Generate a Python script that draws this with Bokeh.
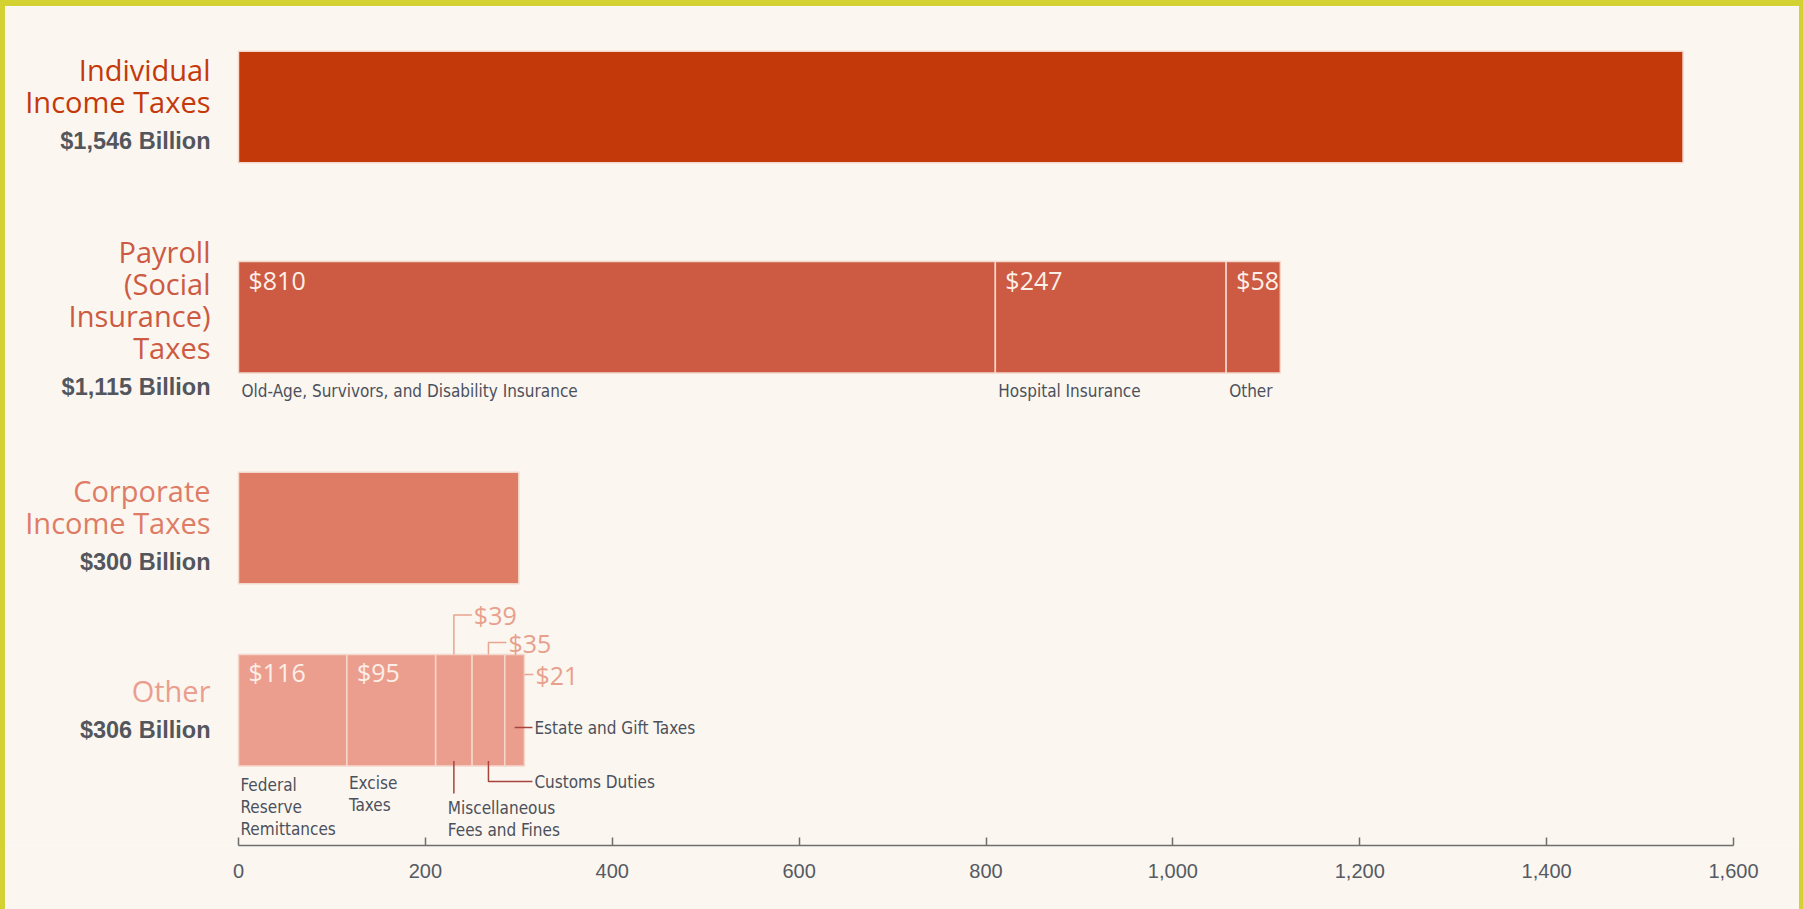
from bokeh.plotting import figure
from bokeh.models import Range1d, FixedTicker, NumeralTickFormatter, ColumnDataSource
from bokeh.core.properties import value
from bokeh.embed import file_html
from bokeh.resources import INLINE

# ---------------- data ----------------
categories = ["Individual Income Taxes", "Payroll (Social Insurance) Taxes",
              "Corporate Income Taxes", "Other"]
title_lines = [["Individual", "Income Taxes"],
               ["Payroll", "(Social", "Insurance)", "Taxes"],
               ["Corporate", "Income Taxes"],
               ["Other"]]
totals = [1546, 1115, 300, 306]
individual_values = [1546]
corporate_values = [300]
payroll_names = ["Old-Age, Survivors, and Disability Insurance", "Hospital Insurance", "Other"]
payroll_values = [810, 247, 58]
other_names = ["Federal\nReserve\nRemittances", "Excise\nTaxes", "Miscellaneous\nFees and Fines",
               "Customs Duties", "Estate and Gift Taxes"]
other_values = [116, 95, 39, 35, 21]
x_ticks = [0, 200, 400, 600, 800, 1000, 1200, 1400, 1600]

# ---------------- layout / style ----------------
BL, BT, BR = 5, 6, 4               # yellow frame widths (left/top/right)
W, H = 1803 - BL - BR, 909 - BT     # element content box
CANVAS_W, CANVAS_H = W + BL + BR, H + BT   # canvas size Bokeh ends up using (clipped)
X0_PX, XMAX_PX = 238, 1733
PX = (XMAX_PX - X0_PX) / 1600.0
AXIS_Y = 845
ROW_Y = [106.5, 316.8, 527.5, 709.7]
BAR_H = 111.5
TOTAL_Y = [140, 386, 561, 729]
LINE_H = 32
TOTAL_GAP = 39
BG = "#FBF6F0"
FRAME = "#D4D133"
COLORS = ["#C4390A", "#CD5A42", "#DE7C66", "#EC9E8E"]
TITLE_FONT = value("Open Sans")
NUM_FONT = value("Open Sans")
TOTAL_FONT = value("Liberation Sans")
SMALL_FONT = value("'DejaVu Sans Condensed', 'DejaVu Sans'")
SMALL_SIZE = "17px"
SMALL_COLOR = "#4B515C"
LEADER_DARK = "#A6453D"
LEADER_LIGHT = "#E8A591"
VALUE_LIGHT = "#E8A08C"

x_start = (BL - X0_PX) / PX
x_end = 1600 + (BL + CANVAS_W - XMAX_PX) / PX

p = figure(width=W, height=H, output_backend="svg", toolbar_location=None,
           x_range=Range1d(x_start, x_end), y_range=Range1d(AXIS_Y, BT),
           y_axis_location=None, min_border_left=0, min_border_right=0,
           min_border_top=0, min_border_bottom=CANVAS_H - (AXIS_Y - BT))
p.title = None
p.styles = {"border-left": f"{BL}px solid {FRAME}", "border-top": f"{BT}px solid {FRAME}",
            "border-right": f"{BR}px solid {FRAME}", "box-sizing": "content-box"}
p.background_fill_color = BG
p.border_fill_color = BG
p.outline_line_color = None
p.xgrid.visible = False
p.ygrid.visible = False

# ---------------- bars ----------------
rows = [individual_values, payroll_values, corporate_values, other_values]
seg = dict(y=[], left=[], right=[], color=[])
for i, parts in enumerate(rows):
    acc = 0
    for v in parts:
        seg["y"].append(ROW_Y[i]); seg["left"].append(acc); seg["right"].append(acc + v)
        seg["color"].append(COLORS[i])
        acc += v
p.hbar(y="y", left="left", right="right", height=BAR_H, fill_color="color",
       line_color="#F4D8CC", line_width=1.5, source=ColumnDataSource(seg))

# ---------------- left titles and totals ----------------
tx, ty, tc = [], [], []
for i, lines in enumerate(title_lines):
    n = len(lines)
    for j, line in enumerate(lines):
        tx.append(line)
        ty.append(TOTAL_Y[i] - TOTAL_GAP - (n - 1 - j) * LINE_H)
        tc.append(COLORS[i])
p.text(x=[0] * len(tx), y=ty, text=tx, text_color=tc, x_offset=-28,
       text_align="right", text_baseline="middle", text_font=TITLE_FONT,
       text_font_size="29px")
p.text(x=[0] * 4, y=TOTAL_Y, text=[f"${t:,} Billion" for t in totals], x_offset=-28,
       text_align="right", text_baseline="middle", text_font=TOTAL_FONT,
       text_font_style="bold", text_font_size="23.5px", text_color="#53565C")

# ---------------- values inside bars ----------------
vx, vy, vt = [], [], []
for i, parts in ((1, payroll_values), (3, other_values)):
    acc = 0
    for v in parts:
        if v >= 50:
            vx.append(acc); vy.append(ROW_Y[i] - BAR_H / 2); vt.append(f"${v}")
        acc += v
p.text(x=vx, y=vy, text=vt, x_offset=10, y_offset=18, text_baseline="middle",
       text_font=NUM_FONT, text_font_size="25px", text_color="#FCEFE8")

# ---------------- payroll component names ----------------
acc = 0
px_, pt_ = [], []
for name, v in zip(payroll_names, payroll_values):
    px_.append(acc); pt_.append(name); acc += v
p.text(x=px_, y=[ROW_Y[1] + BAR_H / 2 + 17.5] * 3, text=pt_, x_offset=3,
       text_baseline="middle", text_font=SMALL_FONT, text_font_size=SMALL_SIZE,
       text_color=SMALL_COLOR)

# ---------------- other components ----------------
o_left = [sum(other_values[:k]) for k in range(len(other_values))]
o_mid = [l + v / 2 for l, v in zip(o_left, other_values)]
o_end = sum(other_values)
o_top = ROW_Y[3] - BAR_H / 2
o_bot = ROW_Y[3] + BAR_H / 2
u = 1.0 / PX  # data units per pixel

lead_light_xs = [[o_mid[2], o_mid[2], o_mid[2] + 18 * u],
                 [o_mid[3], o_mid[3], o_mid[3] + 18 * u],
                 [o_end, o_end + 9 * u]]
lead_light_ys = [[o_top, 614.5, 614.5], [o_top, 642, 642], [674, 674]]
p.multi_line(xs=lead_light_xs, ys=lead_light_ys, line_color=LEADER_LIGHT, line_width=1.5)
p.text(x=[o_mid[2] + 20 * u, o_mid[3] + 20 * u, o_end + 11 * u], y=[614.5, 642, 674],
       text=[f"${other_values[2]}", f"${other_values[3]}", f"${other_values[4]}"],
       text_baseline="middle", text_font=NUM_FONT, text_font_size="25px",
       text_color=VALUE_LIGHT)

lead_dark_xs = [[o_mid[2], o_mid[2]],
                [o_mid[3], o_mid[3], o_end + 8 * u],
                [o_mid[4], o_end + 8 * u]]
lead_dark_ys = [[o_bot - 5, 793], [o_bot - 5, 781, 781], [727, 727]]
p.multi_line(xs=lead_dark_xs, ys=lead_dark_ys, line_color=LEADER_DARK, line_width=1.5)

nx, ny, nt, noff = [], [], [], []
name_anchor = [(o_left[0], 784, 2), (o_left[1], 782, 2), (o_mid[2], 807, -6),
               (o_end + 10 * u, 781, 0), (o_end + 10 * u, 727, 0)]
for name, (ax_, ay, off) in zip(other_names, name_anchor):
    for k, line in enumerate(name.split("\n")):
        nx.append(ax_); ny.append(ay + k * 22); nt.append(line); noff.append(off)
p.text(x=nx, y=ny, text=nt, x_offset=noff, text_baseline="middle",
       text_font=SMALL_FONT, text_font_size=SMALL_SIZE, text_color=SMALL_COLOR)

# ---------------- axis ----------------
ax = p.xaxis[0]
ax.ticker = FixedTicker(ticks=x_ticks)
ax.formatter = NumeralTickFormatter(format="0,0")
ax.bounds = (0, 1600)
ax.major_tick_in = 8
ax.major_tick_out = 0
ax.minor_tick_line_color = None
ax.axis_line_color = "#6E6E6E"
ax.axis_line_width = 1.5
ax.major_tick_line_color = "#6E6E6E"
ax.major_tick_line_width = 1.5
ax.major_label_text_font = "Liberation Sans"
ax.major_label_text_font_size = "20px"
ax.major_label_text_color = "#555A63"
ax.major_label_standoff = 18

open("out.html", "w").write(file_html(p, INLINE))
